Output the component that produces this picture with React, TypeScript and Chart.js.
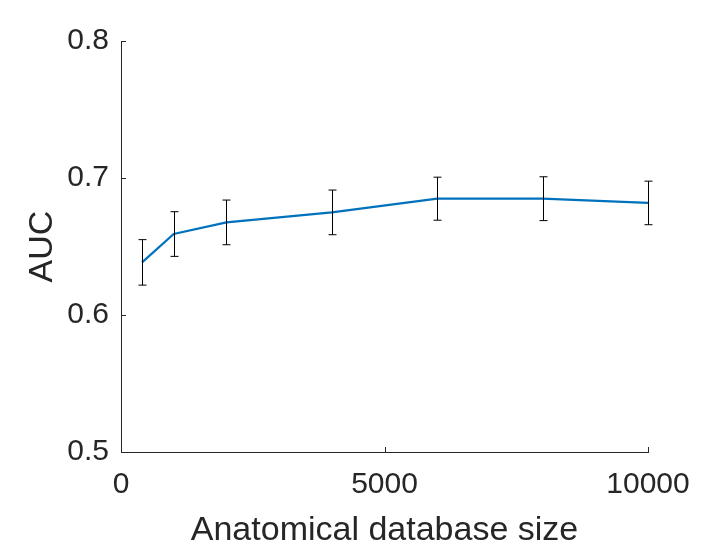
import React, { useEffect, useRef } from 'react'
import Chart from 'chart.js/auto'

// database sizes (x) and mean AUC with error half-widths
const sizes = [400, 1000, 2000, 4000, 6000, 8000, 10000]
const auc = [0.6384, 0.6591, 0.6676, 0.6749, 0.6849, 0.6849, 0.6818]
const aucErr = [0.0166, 0.0163, 0.0163, 0.0163, 0.0157, 0.016, 0.0159]
const xTicks = [0, 5000, 10000]
const yTicks = [0.5, 0.6, 0.7, 0.8]

const AXIS = '#262626'
const FONT = '"Liberation Sans", Arial, Helvetica, sans-serif'

// error bars with small caps, drawn from the scales
const errorBars = {
    id: 'errorBars',
    afterDatasetsDraw(chart: any) {
        const { ctx, scales } = chart
        const x = scales.x
        const y = scales.y
        ctx.save()
        ctx.strokeStyle = '#000000'
        ctx.lineWidth = 1
        sizes.forEach((s, i) => {
            const px = Math.round(x.getPixelForValue(s)) + 0.5
            const top = y.getPixelForValue(auc[i] + aucErr[i])
            const bot = y.getPixelForValue(auc[i] - aucErr[i])
            ctx.beginPath()
            ctx.moveTo(px, top)
            ctx.lineTo(px, bot)
            ctx.moveTo(px - 4, top)
            ctx.lineTo(px + 4, top)
            ctx.moveTo(px - 4, bot)
            ctx.lineTo(px + 4, bot)
            ctx.stroke()
        })
        ctx.restore()
    }
}

// MATLAB style ticks pointing into the plot
const innerTicks = {
    id: 'innerTicks',
    afterDraw(chart: any) {
        const { ctx, scales, chartArea } = chart
        ctx.save()
        ctx.strokeStyle = AXIS
        ctx.lineWidth = 1
        ctx.beginPath()
        xTicks.forEach(t => {
            const px = Math.round(scales.x.getPixelForValue(t)) + 0.5
            ctx.moveTo(px, chartArea.bottom)
            ctx.lineTo(px, chartArea.bottom - 5)
        })
        yTicks.forEach(t => {
            const py = Math.round(scales.y.getPixelForValue(t)) + 0.5
            ctx.moveTo(chartArea.left, py)
            ctx.lineTo(chartArea.left + 5, py)
        })
        ctx.stroke()
        ctx.restore()
    }
}

const AucChart: React.FC = () => {
    const chartRef = useRef<HTMLCanvasElement>(null)
    const chartInstance = useRef<Chart | null>(null)

    useEffect(() => {
        if (!chartRef.current) return
        const ctx = chartRef.current.getContext('2d')
        if (!ctx) return
        if (chartInstance.current) chartInstance.current.destroy()

        chartInstance.current = new Chart(ctx, {
            type: 'line',
            data: {
                datasets: [{
                    label: 'AUC',
                    data: sizes.map((s, i) => ({ x: s, y: auc[i] })),
                    borderColor: '#0072BD',
                    borderWidth: 2.2,
                    pointRadius: 0,
                    fill: false,
                    tension: 0
                }]
            },
            options: {
                animation: false,
                responsive: true,
                maintainAspectRatio: false,
                layout: { padding: { top: 41, right: 69, bottom: 0, left: 0 } },
                plugins: {
                    legend: { display: false },
                    tooltip: { enabled: false }
                },
                scales: {
                    x: {
                        type: 'linear',
                        min: 0,
                        max: 10000,
                        afterFit: (scale: any) => { scale.height = 96 },
                        afterBuildTicks: (scale: any) => { scale.ticks = xTicks.map(v => ({ value: v })) },
                        grid: { drawOnChartArea: false, drawTicks: false },
                        border: { display: true, color: AXIS, width: 1 },
                        ticks: {
                            padding: 15,
                            color: AXIS,
                            font: { family: FONT, size: 30 },
                            maxRotation: 0,
                            callback: (v: any) => String(v)
                        },
                        title: {
                            display: true,
                            text: 'Anatomical database size',
                            color: AXIS,
                            font: { family: FONT, size: 34 },
                            padding: { top: 0, bottom: -3 }
                        }
                    },
                    y: {
                        min: 0.5,
                        max: 0.8,
                        afterFit: (scale: any) => { scale.width = 121 },
                        afterBuildTicks: (scale: any) => { scale.ticks = yTicks.map(v => ({ value: v })) },
                        grid: { drawOnChartArea: false, drawTicks: false },
                        border: { display: true, color: AXIS, width: 1 },
                        ticks: {
                            padding: 12,
                            color: AXIS,
                            font: { family: FONT, size: 30 },
                            callback: (v: any) => Number(v).toFixed(1)
                        },
                        title: {
                            display: true,
                            text: 'AUC',
                            color: AXIS,
                            font: { family: FONT, size: 34 },
                            padding: { top: 22, bottom: 0 }
                        }
                    }
                }
            },
            plugins: [errorBars, innerTicks]
        })

        return () => {
            if (chartInstance.current) {
                chartInstance.current.destroy()
                chartInstance.current = null
            }
        }
    }, [])

    return <canvas ref={chartRef}></canvas>
}

export default function App() {
    return (
        <div style={{ position: 'absolute', left: 0, top: 0, width: 717, height: 548, background: '#ffffff' }}>
            <AucChart />
        </div>
    )
}
